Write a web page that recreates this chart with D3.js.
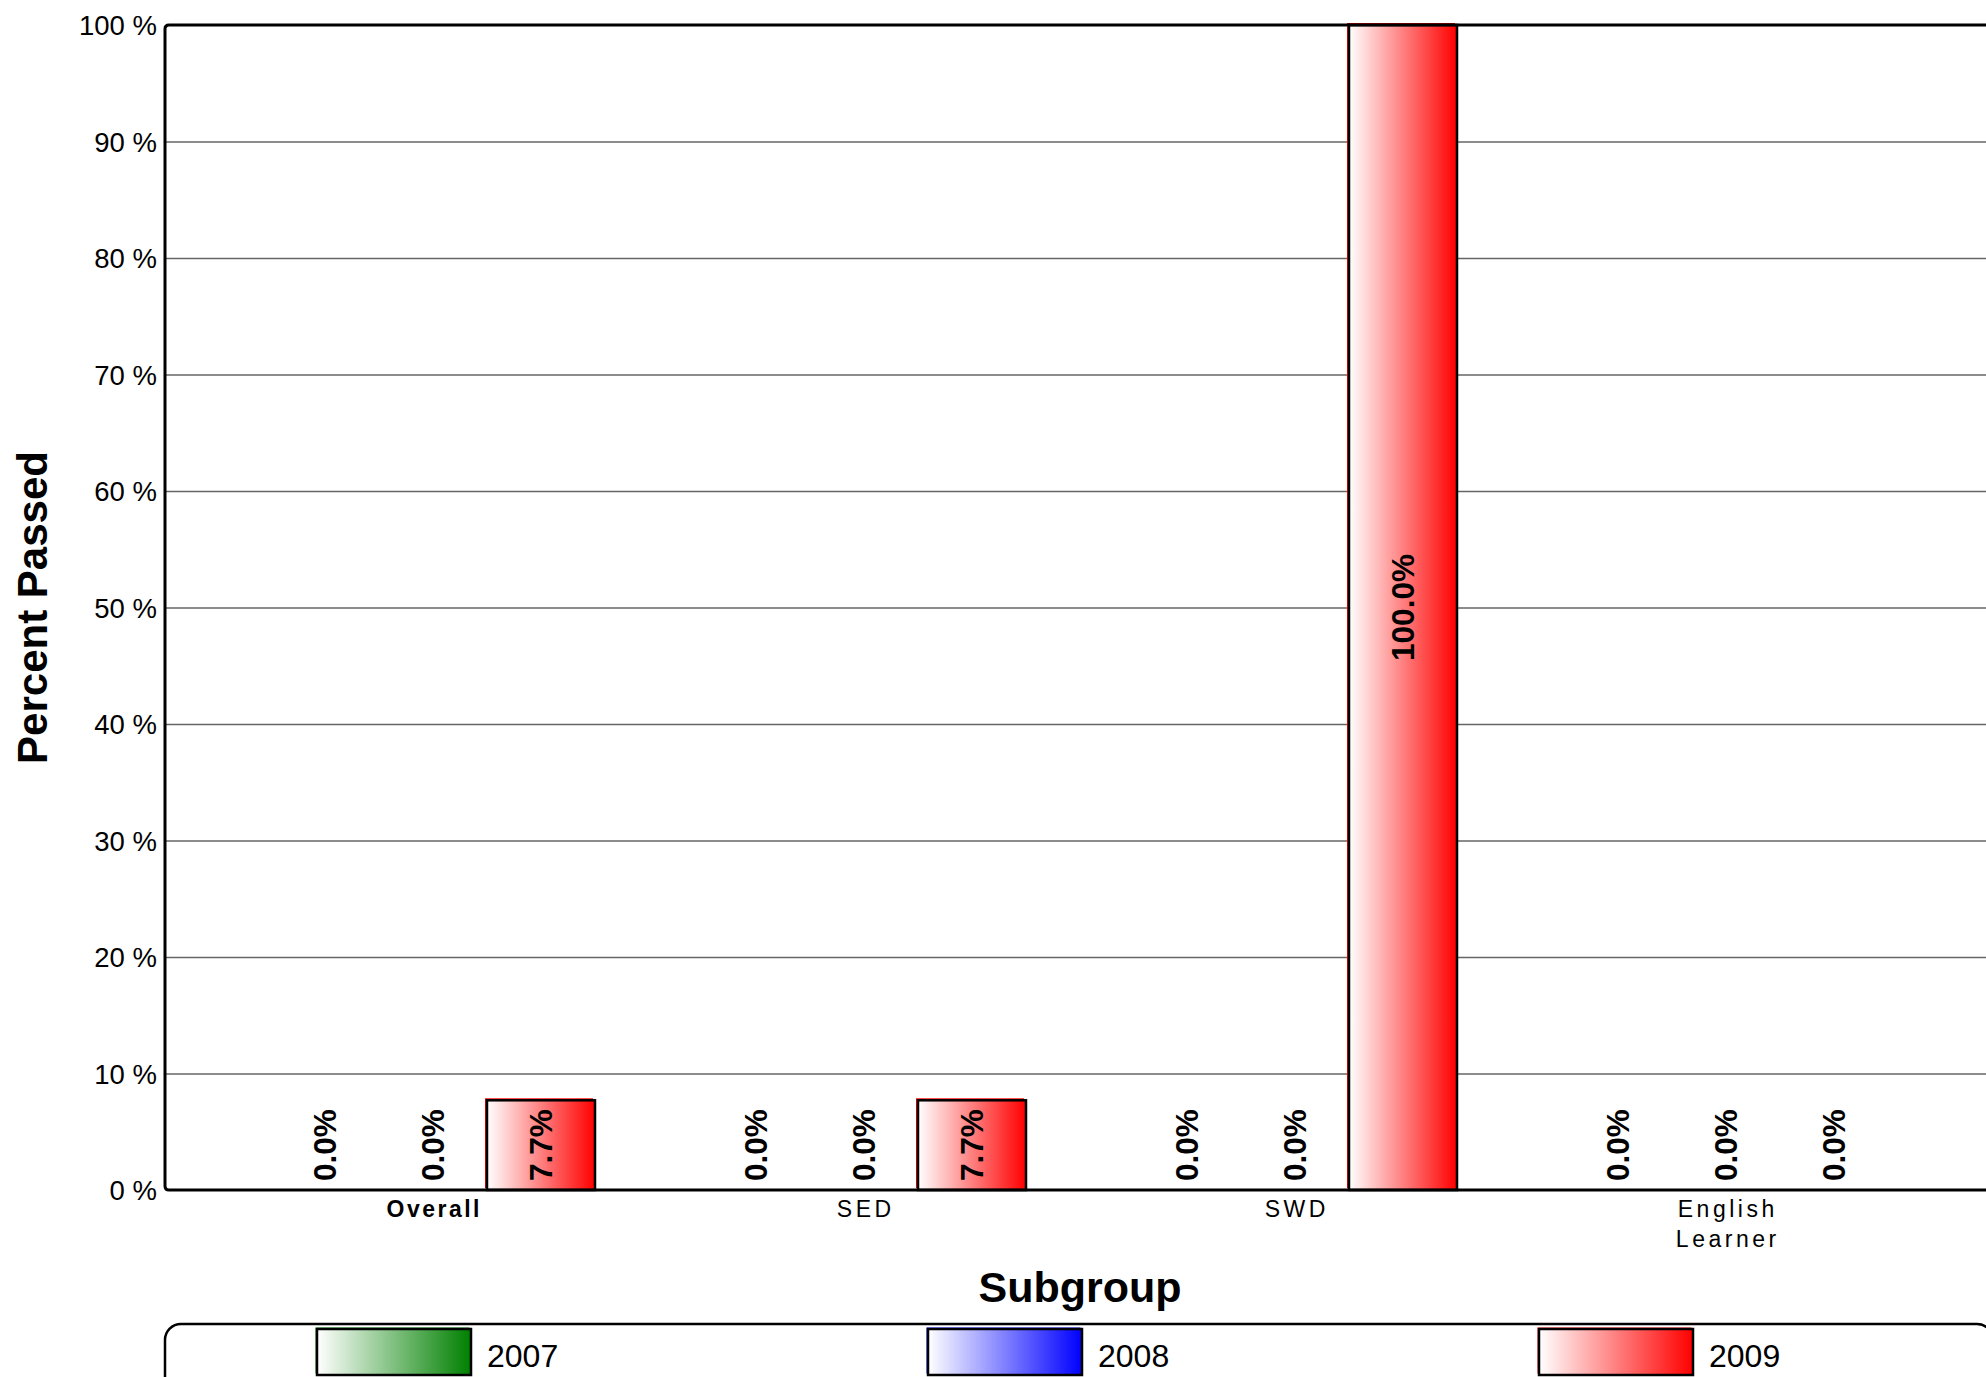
<!DOCTYPE html>
<html>
<head>
<meta charset="utf-8">
<script src="https://cdn.jsdelivr.net/npm/d3@7"></script>
<style>
  html, body { margin: 0; padding: 0; background: #fff; }
  svg { display: block; font-family: "Liberation Sans", Arial, sans-serif; }
</style>
</head>
<body>
<svg id="chart" width="1986" height="1377"></svg>
<script>
// ---- data ----
const categories = ["Overall", "SED", "SWD", "English Learner"];
const categoryLines = [["Overall"], ["SED"], ["SWD"], ["English", "Learner"]];
const years = ["2007", "2008", "2009"];
const values2007 = [0, 0, 0, 0];
const values2008 = [0, 0, 0, 0];
const values2009 = [7.7, 7.7, 100, 0];
const yearColors = ["#008000", "#0000ff", "#ff0000"];
const yTicks = [0, 10, 20, 30, 40, 50, 60, 70, 80, 90, 100];
const yTitle = "Percent Passed";
const xTitle = "Subgroup";

const series = [values2007, values2008, values2009];

// ---- layout ----
const W = 1986, H = 1377;
const plot = { left: 165, right: 1993, top: 25, bottom: 1190 };
const svg = d3.select("#chart");

const defs = svg.append("defs");
years.forEach((yr, i) => {
  const g = defs.append("linearGradient").attr("id", "grad" + i)
    .attr("x1", "0%").attr("x2", "100%").attr("y1", "0%").attr("y2", "0%");
  g.append("stop").attr("offset", "0%").attr("stop-color", "#ffffff");
  g.append("stop").attr("offset", "100%").attr("stop-color", yearColors[i]);
});

const y = d3.scaleLinear().domain([0, 100]).range([plot.bottom, plot.top]);
const x0 = d3.scaleBand().domain(categories).range([217.5, 1941.5]).padding(0);
const groupW = 324;
const x1 = d3.scaleBand().domain(years).range([0, groupW]).padding(0);

// gridlines
svg.append("g")
  .attr("transform", `translate(${plot.left},0)`)
  .call(d3.axisLeft(y).tickValues(yTicks.filter(t => t > 0 && t < 100))
        .tickSize(-(plot.right - plot.left)).tickFormat(""))
  .call(g => g.select(".domain").remove())
  .call(g => g.selectAll("line").attr("stroke", "#666").attr("stroke-width", 1.5));

// y tick labels
svg.append("g")
  .attr("transform", `translate(${plot.left},0)`)
  .call(d3.axisLeft(y).tickValues(yTicks).tickSize(0).tickPadding(8).tickFormat(d => d + " %"))
  .call(g => g.select(".domain").remove())
  .call(g => g.selectAll("text")
        .attr("font-family", "'Liberation Sans', Arial, sans-serif")
        .attr("font-size", 27.5).attr("fill", "#000").attr("dy", "0.36em"));

// bars
const barData = [];
categories.forEach((c, ci) => {
  years.forEach((yr, si) => {
    barData.push({ cat: c, ci, year: yr, si, v: series[si][ci] });
  });
});
const bx = d => x0(d.cat) + x0.bandwidth() / 2 - groupW / 2 + x1(d.year);

const bars = svg.append("g");
bars.selectAll("rect.shadow").data(barData.filter(d => d.v > 0)).join("rect")
  .attr("class", "shadow")
  .attr("x", d => bx(d) - 2).attr("y", d => y(d.v) - 2)
  .attr("width", x1.bandwidth()).attr("height", d => y(0) - y(d.v))
  .attr("fill", d => yearColors[d.si]);
bars.selectAll("rect.bar").data(barData.filter(d => d.v > 0)).join("rect")
  .attr("class", "bar")
  .attr("x", d => bx(d)).attr("y", d => y(d.v))
  .attr("width", x1.bandwidth()).attr("height", d => y(0) - y(d.v))
  .attr("fill", d => `url(#grad${d.si})`)
  .attr("stroke", "#000").attr("stroke-width", 2.5);

// axis frame lines
const frame = svg.append("g").attr("stroke", "#000").attr("stroke-width", 3).attr("fill", "none");
frame.append("path").attr("d", `M${plot.right},${plot.top} L${plot.left + 4},${plot.top} Q${plot.left},${plot.top} ${plot.left},${plot.top + 4} L${plot.left},${plot.bottom - 4} Q${plot.left},${plot.bottom} ${plot.left + 4},${plot.bottom} L${plot.right},${plot.bottom}`);

// value labels
const labels = svg.append("g");
barData.forEach(d => {
  const cx = bx(d) + x1.bandwidth() / 2;
  const t = labels.append("text")
    .attr("font-family", "'Liberation Sans', Arial, sans-serif")
    .attr("font-weight", "bold").attr("font-size", 31.5).attr("fill", "#000")
    .attr("dy", "0.36em")
    .text(d.v.toFixed(1) + "%");
  const len = t.node().getComputedTextLength();
  let cy = (y(0) + y(d.v)) / 2;
  cy = Math.min(cy, y(0) - 9 - len / 2);
  t.attr("text-anchor", "middle").attr("transform", `translate(${cx},${cy}) rotate(-90)`);
});

// x axis category labels
const xAxisG = svg.append("g")
  .attr("transform", `translate(0,${plot.bottom})`)
  .call(d3.axisBottom(x0).tickSize(0).tickPadding(0))
  .call(g => g.select(".domain").remove());
xAxisG.selectAll(".tick text").each(function (d, i) {
  const t = d3.select(this);
  t.text(null).attr("y", 0).attr("dy", null)
    .attr("font-family", "'Liberation Sans', Arial, sans-serif")
    .attr("font-size", 23).attr("fill", "#000")
    .attr("font-weight", i === 0 ? "bold" : "normal")
    .attr("letter-spacing", i === 0 ? 2.5 : 3.5);
  categoryLines[i].forEach((line, li) => {
    t.append("tspan").attr("x", i === 0 ? 1.25 : 1.75).attr("y", 27 + li * 30).text(line);
  });
});

// axis titles
svg.append("text")
  .attr("transform", `translate(47,${(plot.top + plot.bottom) / 2}) rotate(-90)`)
  .attr("text-anchor", "middle")
  .attr("font-weight", "bold").attr("font-size", 42).attr("fill", "#000")
  .text(yTitle);
svg.append("text")
  .attr("x", 1080).attr("y", 1302)
  .attr("text-anchor", "middle")
  .attr("font-weight", "bold").attr("font-size", 43).attr("fill", "#000")
  .text(xTitle);

// legend
const legend = svg.append("g");
legend.append("rect")
  .attr("x", plot.left).attr("y", 1324)
  .attr("width", plot.right - plot.left).attr("height", 90)
  .attr("rx", 16).attr("ry", 16)
  .attr("fill", "#fff").attr("stroke", "#000").attr("stroke-width", 2.5);
const legendX = d3.scalePoint().domain(years).range([317, 1539]);
years.forEach((yr, i) => {
  const lx = legendX(yr);
  legend.append("rect")
    .attr("x", lx - 1.5).attr("y", 1327.5).attr("width", 154).attr("height", 46)
    .attr("fill", yearColors[i]);
  legend.append("rect")
    .attr("x", lx).attr("y", 1329).attr("width", 154).attr("height", 46)
    .attr("fill", `url(#grad${i})`).attr("stroke", "#000").attr("stroke-width", 2.5);
  legend.append("text")
    .attr("x", lx + 170).attr("y", 1367)
    .attr("font-size", 32).attr("fill", "#000")
    .text(yr);
});
</script>
</body>
</html>
